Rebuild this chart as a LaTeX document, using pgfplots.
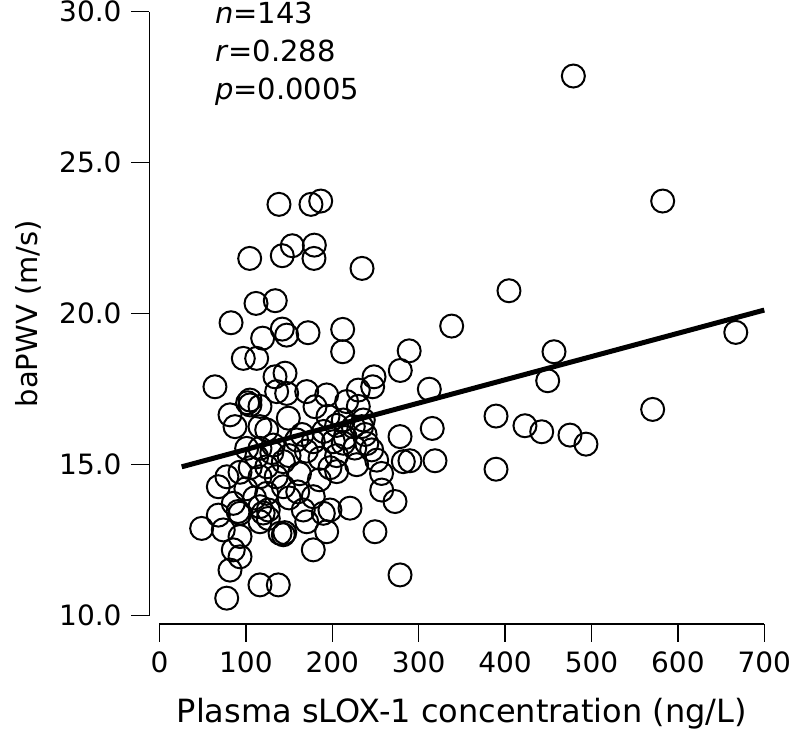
\documentclass[border=0pt]{standalone}
\usepackage{fontspec}
\setmainfont{DejaVu Sans}
\usepackage{pgfplots}
\pgfplotsset{compat=1.18}

\begin{document}
\fontsize{14}{17}\selectfont
\begin{tikzpicture}
\useasboundingbox (-79.75pt,-57.65pt) rectangle (317.25pt,307.85pt);
\begin{axis}[
  at={(0,0)}, anchor=south west,
  scale only axis, width=302.4pt, height=302pt,
  xmin=0, xmax=700, ymin=10, ymax=30,
  separate axis lines,
  axis x line*=bottom, axis y line*=left,
  axis x line shift=4.15pt, axis y line shift=5.1pt,
  xtick={0,100,...,700}, ytick={10,15,...,30},
  tick align=outside, major tick length=9pt,
  axis line style={line width=0.7pt},
  tick style={line width=0.7pt, black},
  /pgf/number format/assume math mode=true,
  y tick label style={/pgf/number format/.cd, fixed, fixed zerofill, precision=1, /tikz/.cd},
  clip=false,
]
% regression line
\addplot[line width=2.5pt, black] coordinates {(25.7,14.93) (700,20.12)};

% sLOX-1 vs baPWV
\addplot[only marks, mark=o, mark size=5.75pt, mark options={line width=1pt, black}] coordinates {
(138.3,23.62) (175.3,23.62) (186.6,23.73) (153.7,22.25) (179.2,22.27)
(104.4,21.83) (142.1,21.92) (178.8,21.83) (234.4,21.50) (111.7,20.34)
(134.0,20.43) (82.8,19.70) (119.4,19.19) (142.1,19.49) (147.2,19.29)
(171.9,19.37) (212.0,19.48)
(212,18.74) (97,18.52) (112.5,18.52) (289,18.77) (278.7,18.12)
(64.2,17.58) (133.7,17.91) (145.3,18.03) (135.6,17.42) (147.2,17.36)
(170.4,17.42) (193.5,17.31) (230.1,17.47) (248.3,17.91) (246.7,17.58)
(81.6,16.65) (104.7,17.14) (104.7,16.98) (116.3,16.93) (149.1,16.54)
(180,16.92) (216.6,17.09) (230.1,16.93) (235.9,16.48)
(87.4,16.26) (116.3,16.26) (124.1,16.15) (212.7,16.48) (224.3,16.26)
(234,16.26) (278.4,15.93)
(100.9,15.54) (116.3,15.54) (131.7,15.65) (158.8,15.82) (178,15.76)
(201.2,15.76) (212.7,15.71) (245.6,15.49)
(78,14.6) (93.2,14.75) (112.5,15.26) (124.1,14.93) (143.3,15.10)
(162,14.7) (185.8,15.21) (197.3,14.9) (205.1,14.77) (228.2,15.0)
(251.4,15.15) (257,14.71) (282.2,15.10)
(68.1,14.27) (116.3,14.6) (124.1,14.05) (143.3,14.27) (178,13.94)
(257.2,14.16) (272.6,13.78)
(85.4,13.72) (68.1,13.33) (93.2,13.39) (48.8,12.89) (73.8,12.84)
(93.2,12.62) (85.4,12.18) (93.2,11.95) (81.6,11.51) (77.8,10.58)
(116.3,11.02) (137.5,11.02)
(116.3,13.61) (125.9,13.5) (116.3,13.11) (125.9,13.22) (139.5,12.73)
(143.3,12.68) (166.4,13.5) (170.4,13.11) (189.6,13.39) (197.3,13.5)
(193.5,12.78) (178,12.18) (220.5,13.56) (249.4,12.78) (278.4,11.35)
(404.5,20.76) (338.2,19.59) (456.6,18.74) (449.3,17.78) (312.3,17.5)
(570.8,16.83) (389.5,16.61) (423,16.29) (442.4,16.09) (475.1,15.98)
(493.6,15.68) (315.7,16.2) (289.9,15.13) (318.9,15.13) (389.5,14.85)
(479,27.87) (582.4,23.73) (667,19.38)
(102,17.05) (91,13.45) (120,13.4) (145,12.75)
(150,15.3) (165,16.0) (190,16.1) (205,16.3) (215,15.9)
(240,15.7) (226,15.55) (185,14.5) (160,14.1) (135,14.6)
(130,15.4) (105,14.9) (100,14.2) (205,15.3) (170,15.45)
(238,16.0) (110,13.9) (150,13.9) (195,16.6)
};

\node[anchor=base west, font=\fontsize{14.5}{17}\selectfont] at (axis cs:53,29.6) {\textit{n}=143};
\node[anchor=base west, font=\fontsize{14.5}{17}\selectfont] at (axis cs:53,28.34) {\textit{r}=0.288};
\node[anchor=base west, font=\fontsize{14.5}{17}\selectfont] at (axis cs:53,27.08) {\textit{p}=0.0005};

\node[anchor=base, font=\fontsize{16}{19}\selectfont] at ([yshift=-53.65pt]rel axis cs:0.5,0) {Plasma sLOX-1 concentration (ng/L)};
\node[anchor=base, rotate=90, font=\fontsize{14.5}{17}\selectfont] at ([xshift=-60.75pt]rel axis cs:0,0.5) {baPWV (m/s)};
\end{axis}
\end{tikzpicture}
\end{document}
